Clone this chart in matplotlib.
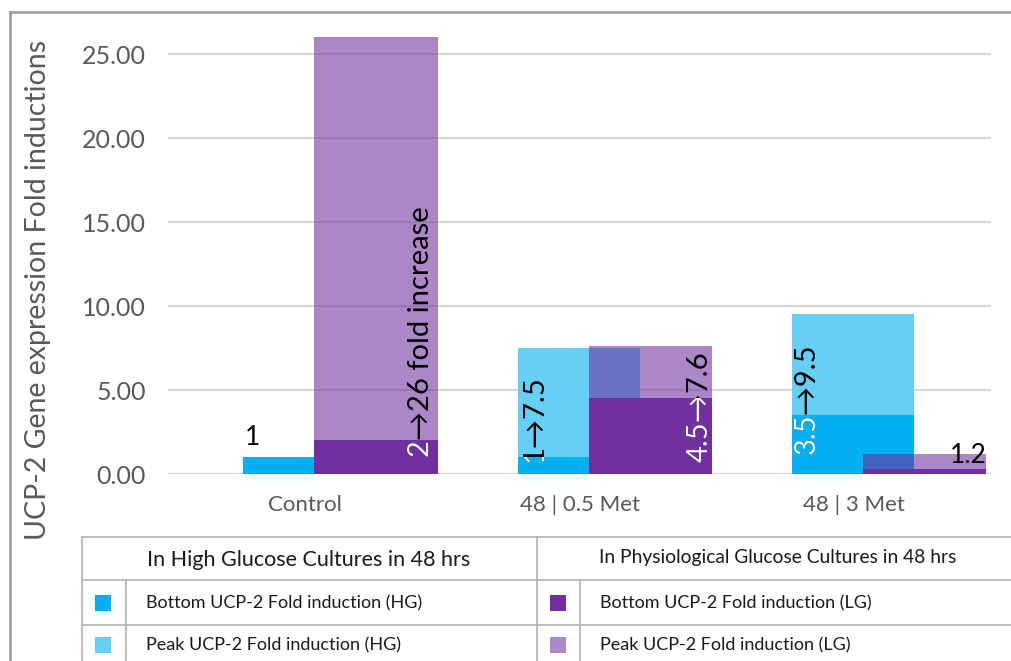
import numpy as np
import matplotlib.pyplot as plt
from matplotlib.transforms import TransformedBbox

plt.rcParams['font.family'] = ['Lato', 'DejaVu Sans']

# Fold-induction values per condition
categories = ['Control', '48 | 0.5 Met', '48 | 3 Met']
hg_bottom = [1.0, 1.0, 3.5]
hg_peak = [0.0, 7.5, 9.5]
lg_bottom = [2.0, 4.5, 0.3]
lg_peak = [26.0, 7.6, 1.2]
yticks = [0, 5, 10, 15, 20, 25]

legend_headers = ['In High Glucose Cultures in 48 hrs',
                  'In Physiological Glucose Cultures in 48 hrs']
legend_hg = ['Bottom UCP-2 Fold induction (HG)', 'Peak UCP-2 Fold induction (HG)']
legend_lg = ['Bottom UCP-2 Fold induction (LG)', 'Peak UCP-2 Fold induction (LG)']

BLUE = '#00b0f0'
LIGHT_BLUE = '#66cff5'
PURPLE = '#7030a0'
LIGHT_PURPLE = '#ad89c8'
GREY_TXT = '#595959'

W, H = 1011, 661
fig = plt.figure(figsize=(W / 100, H / 100), dpi=100)
ax = fig.add_axes([168 / W, 187 / H, 823 / W, 453.6 / H])

x = np.arange(len(categories))
hg_off, hg_w = -0.225, 0.445
lg_off, lg_w = 0.033, 0.45

ax.bar(x + hg_off, hg_peak, hg_w, align='edge', color=LIGHT_BLUE, lw=0, zorder=2)
hg_bars = ax.bar(x + hg_off, hg_bottom, hg_w, align='edge', color=BLUE, lw=0, zorder=3)
ax.bar(x + lg_off, lg_peak, lg_w, align='edge', color=PURPLE, alpha=0.58, lw=0, zorder=4)
lg_bars = ax.bar(x + lg_off, lg_bottom, lg_w, align='edge', color=PURPLE, lw=0, zorder=5)

ax.set_xlim(-0.5, 2.5)
ax.set_ylim(0, 27)
ax.set_yticks(yticks)
ax.set_yticklabels([f'{v:.2f}' for v in yticks])
ax.set_xticks(x)
ax.set_xticklabels(categories)
ax.tick_params(length=0, colors=GREY_TXT)
ax.tick_params(axis='y', labelsize=18, pad=16)
ax.tick_params(axis='x', labelsize=16, pad=15)
for s in ax.spines.values():
    s.set_visible(False)
ax.yaxis.grid(True, color='#d9d9d9', lw=1.6, zorder=0)
ax.set_axisbelow(True)


def rotated_label(xc, y0, text, dark_bar):
    # black text, with the part over the dark bar redrawn in white
    kw = dict(rotation=90, ha='center', va='bottom', fontsize=21)
    ax.text(xc, y0, text, color='black', zorder=6, **kw)
    t = ax.text(xc, y0, text, color='white', zorder=7, clip_on=True, **kw)
    t.set_clip_box(TransformedBbox(dark_bar.get_bbox(), ax.transData))


rotated_label(x[0] + lg_off + lg_w - 0.062, 1.0,
              f'{lg_bottom[0]:g}\u2192{lg_peak[0]:g} fold increase', lg_bars[0])
rotated_label(x[1] + hg_off + 0.062, 0.7,
              f'{hg_bottom[1]:g}\u2192{hg_peak[1]:g}', hg_bars[1])
rotated_label(x[1] + lg_off + lg_w - 0.045, 0.7,
              f'{lg_bottom[1]:g}\u2192{lg_peak[1]:g}', lg_bars[1])
rotated_label(x[2] + hg_off + 0.052, 1.2,
              f'{hg_bottom[2]:g}\u2192{hg_peak[2]:g}', hg_bars[2])

ax.text(x[0] + hg_off + 0.005, hg_bottom[0] + 0.4, f'{hg_bottom[0]:g}',
        ha='left', va='bottom', fontsize=19, color='black', zorder=6)
ax.text(x[2] + lg_off + lg_w, lg_peak[2] - 0.1, f'{lg_peak[2]:g}',
        ha='right', va='center', fontsize=19, color='black', zorder=6)

fig.text(38 / W, 1 - 290 / H, 'UCP-2 Gene expression Fold inductions',
         rotation=90, ha='center', va='center', fontsize=20.5, color=GREY_TXT)

# outer frame and legend table, drawn in pixel coordinates
ov = fig.add_axes([0, 0, 1, 1])
ov.set_xlim(0, W)
ov.set_ylim(H, 0)
ov.axis('off')

frame_kw = dict(color='#9a9a9a', lw=1.8)
ov.plot([10, W], [12, 12], **frame_kw)
ov.plot([10, 10], [12, H], **frame_kw)

grid_kw = dict(color='#b8b8b8', lw=1.3)
for yy in (537, 580, 625):
    ov.plot([82, W], [yy, yy], **grid_kw)
ov.plot([82, 82], [537, H], **grid_kw)
ov.plot([537, 537], [537, H], **grid_kw)
ov.plot([126, 126], [580, H], **grid_kw)
ov.plot([580, 580], [580, H], **grid_kw)

ov.text(147, 560, legend_headers[0], fontsize=15.5, va='center', color='#1a1a1a')
ov.text(599, 558, legend_headers[1], fontsize=13.9, va='center', color='#1a1a1a')

row_y = [603, 645]
for (label, col), yy in zip(zip(legend_hg, [BLUE, LIGHT_BLUE]), row_y):
    ov.scatter([103], [yy], marker='s', s=120, color=col, lw=0)
    ov.text(146, yy, label, fontsize=13, va='center', color='#1a1a1a')
for (label, col), yy in zip(zip(legend_lg, [PURPLE, LIGHT_PURPLE]), row_y):
    ov.scatter([558], [yy], marker='s', s=120, color=col, lw=0)
    ov.text(600, yy, label, fontsize=13, va='center', color='#1a1a1a')

fig.savefig('out.png', dpi=100)
